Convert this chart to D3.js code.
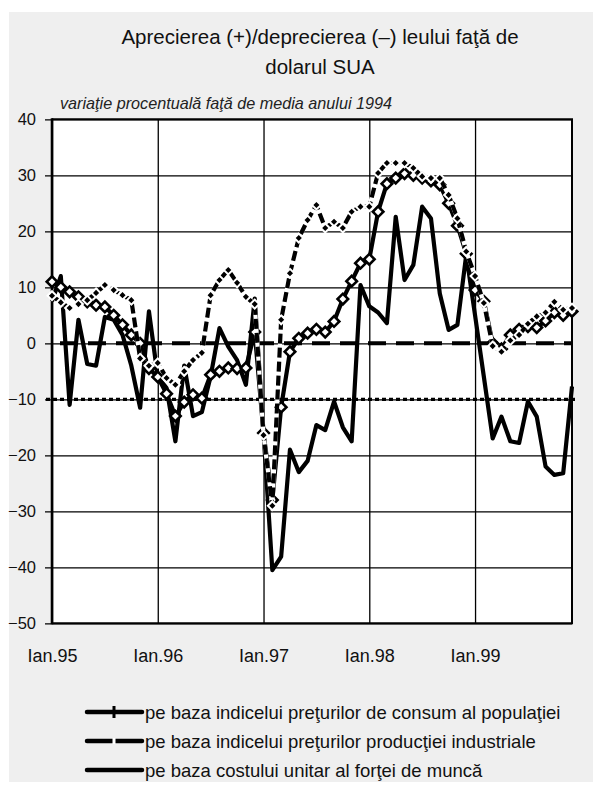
<!DOCTYPE html>
<html><head><meta charset="utf-8">
<script src="https://cdn.jsdelivr.net/npm/d3@7"></script>
<style>body{margin:0;background:#fff}svg{display:block}text{font-family:"Liberation Sans",Arial,Helvetica,sans-serif;fill:#111}</style>
</head><body><svg id="c" width="601" height="792"></svg>
<script>
// ---- data ----
const years = ["95","96","97","98","99"];
const monthAbbr = ["Ian","Feb","Mar","Apr","Mai","Iun","Iul","Aug","Sep","Oct","Noi","Dec"];
const categories = [];
years.forEach(y => monthAbbr.forEach(m => categories.push(m + "." + y)));
const xTickLabels = ["Ian.95","Ian.96","Ian.97","Ian.98","Ian.99"];
const yTicks = [40,30,20,10,0,-10,-20,-30,-40,-50];
const seriesNames = [
  "pe baza indicelui preţurilor de consum al populaţiei",
  "pe baza indicelui preţurilor producţiei industriale",
  "pe baza costului unitar al forţei de muncă"
];
const cpi = [
  11.0, 10.0, 9.2, 8.3, 7.4, 6.8, 6.5, 5.0, 3.3, 1.5, 0.0, -4.5,
  -6.0, -9.0, -13.0, -10.5, -9.2, -9.8, -5.6, -5.0, -4.4, -4.5, -4.4, 2.0,
  -16.0, -28.0, -11.4, -1.5, 0.9, 1.8, 2.5, 2.0, 3.9, 7.9, 11.1, 14.3,
  15.0, 23.5, 28.5, 29.5, 30.3, 30.0, 29.5, 29.0, 28.3, 25.0, 21.0, 16.0,
  9.5, 7.5, 0.0, -1.0, 1.5, 2.5, 3.0, 2.8, 4.0, 5.5, 5.0, 5.7
];
const ppi = [
  8.5, 7.3, 6.3, 7.0, 7.7, 9.0, 10.4, 9.5, 8.6, 7.7, -2.7, -4.0,
  -3.5, -6.2, -7.4, -5.0, -3.0, -1.7, 8.6, 11.3, 13.1, 10.8, 8.3, 7.0,
  -16.4, -29.0, 4.2, 12.5, 18.8, 22.0, 24.7, 20.6, 21.7, 20.6, 23.5, 24.4,
  24.4, 30.4, 32.2, 32.2, 32.2, 31.3, 29.8, 29.5, 29.5, 26.5, 22.3, 16.4,
  12.0, 7.2, -0.5, -1.5, 0.5, 1.5, 3.5, 4.8, 5.5, 7.4, 6.0, 6.3
];
const labor = [
  7.5, 12.0, -11.0, 4.2, -3.7, -4.0, 4.7, 4.2, 1.5, -4.0, -11.5, 5.7,
  -6.0, -8.0, -17.5, -4.0, -13.0, -12.3, -5.9, 2.7, -0.6, -3.0, -7.4, 8.0,
  -16.0, -40.5, -38.1, -19.0, -23.0, -21.0, -14.6, -15.5, -10.4, -15.0, -17.5, 10.4,
  6.6, 5.5, 3.6, 22.6, 11.3, 14.0, 24.4, 22.3, 8.9, 2.4, 3.3, 15.8,
  5.0, -6.0, -17.0, -13.1, -17.5, -17.8, -10.4, -13.1, -22.0, -23.5, -23.2, -7.7
];
const refZero = 0, refMinus10 = -10;

// ---- drawing ----
const svg = d3.select("#c");
svg.append("rect").attr("x",9).attr("y",12).attr("width",584).attr("height",770).attr("fill","#efefef");

const L = 52, R = 572, T = 119.3, B = 623.3;
const x = d3.scalePoint().domain(categories).range([L, R]);
const y = d3.scaleLinear().domain([-50, 40]).range([B, T]);

// title
svg.append("text").attr("x",320).attr("y",44).attr("text-anchor","middle").style("font-size","20.5px").text("Aprecierea (+)/deprecierea (–) leului faţă de");
svg.append("text").attr("x",320).attr("y",74).attr("text-anchor","middle").style("font-size","20.5px").text("dolarul SUA");
svg.append("text").attr("x",60).attr("y",109).style("font-size","16.2px").style("font-style","italic").style("fill","#222").text("variaţie procentuală faţă de media anului 1994");

// plot area
svg.append("rect").attr("x",L).attr("y",T).attr("width",R-L).attr("height",B-T).attr("fill","#fff");

// horizontal gridlines + y axis ticks
const yAxis = d3.axisLeft(y).tickValues(yTicks).tickSize(R-L+7).tickPadding(9).tickFormat(d3.format("d"));
const gy = svg.append("g").attr("transform",`translate(${R},0)`).call(yAxis);
gy.select(".domain").remove();
gy.selectAll(".tick line").attr("stroke","#000").attr("stroke-width",1.3);
gy.selectAll(".tick text").style("font-size","16.5px").style("font-family","'Liberation Sans',Arial,sans-serif").attr("fill","#111");

// vertical gridlines + x labels
const xAxis = d3.axisBottom(x).tickValues(xTickLabels).tickSize(0).tickPadding(0);
const gx = svg.append("g").attr("transform",`translate(0,${B})`).call(xAxis);
gx.select(".domain").remove();
gx.selectAll(".tick text").attr("y",39).attr("dy",0).style("font-size","18px").style("font-family","'Liberation Sans',Arial,sans-serif").attr("fill","#111");
gx.selectAll(".tick").append("line").attr("x1",0).attr("x2",0).attr("y1",0).attr("y2",T-B).attr("stroke","#000").attr("stroke-width",1.3);

// frame
svg.append("line").attr("x1",L).attr("x2",R+1).attr("y1",T).attr("y2",T).attr("stroke","#000").attr("stroke-width",2);
svg.append("line").attr("x1",L).attr("x2",R+1).attr("y1",B).attr("y2",B).attr("stroke","#000").attr("stroke-width",2);
svg.append("line").attr("x1",R).attr("x2",R).attr("y1",T).attr("y2",B).attr("stroke","#000").attr("stroke-width",2);
svg.append("line").attr("x1",L).attr("x2",L).attr("y1",T-1).attr("y2",B+1).attr("stroke","#000").attr("stroke-width",2.6);

// reference lines
svg.append("line").attr("x1",L).attr("x2",R).attr("y1",y(refZero)).attr("y2",y(refZero))
  .attr("stroke","#000").attr("stroke-width",4).attr("stroke-dasharray","18,10").attr("stroke-dashoffset",-8);
svg.append("line").attr("x1",L-6).attr("x2",R+3).attr("y1",y(refMinus10)).attr("y2",y(refMinus10))
  .attr("stroke","#000").attr("stroke-width",3.2).attr("stroke-dasharray","4,3");

const line = d3.line().x((d,i)=>x(categories[i])).y(d=>y(d)).curve(d3.curveLinear);
const sq = d3.symbol().type(d3.symbolSquare);

// labor cost series
svg.append("path").datum(labor).attr("d",line).attr("fill","none").attr("stroke","#000").attr("stroke-width",4.2).attr("stroke-linejoin","round");

// CPI series
svg.append("path").datum(cpi).attr("d",line).attr("fill","none").attr("stroke","#000").attr("stroke-width",4.2).attr("stroke-linejoin","round");
svg.append("g").selectAll("path").data(cpi).join("path")
  .attr("transform",(d,i)=>`translate(${x(categories[i])},${y(d)}) rotate(45)`)
  .attr("d",sq.size(56)()).attr("fill","#fff").attr("stroke","#000").attr("stroke-width",2.6);

// PPI series
svg.append("path").datum(ppi).attr("d",line).attr("fill","none").attr("stroke","#fff").attr("stroke-width",4.2).attr("stroke-linejoin","round");
svg.append("path").datum(ppi).attr("d",line).attr("fill","none").attr("stroke","#000").attr("stroke-width",4.2).attr("stroke-dasharray","10,4");
svg.append("g").selectAll("path").data(ppi).join("path")
  .attr("transform",(d,i)=>`translate(${x(categories[i])},${y(d)}) rotate(45)`)
  .attr("d",sq.size(40)()).attr("fill","#000").attr("stroke","#fff").attr("stroke-width",2);

// legend
const rows = [712, 741, 770];
const lg = svg.append("g");
seriesNames.forEach((name,k)=>{
  const ry = rows[k];
  lg.append("line").attr("x1",87).attr("x2",142).attr("y1",ry).attr("y2",ry).attr("stroke","#000").attr("stroke-width",4.5).attr("stroke-linecap","round");
  if(k===0) lg.append("rect").attr("x",112.5).attr("y",ry-6).attr("width",3).attr("height",12).attr("fill","#000");
  if(k===1) lg.append("rect").attr("x",112.5).attr("y",ry-3).attr("width",3).attr("height",6).attr("fill","#fff");
  lg.append("text").attr("x",145).attr("y",ry+6.5).style("font-size","18.5px").text(name);
});
</script></body></html>
